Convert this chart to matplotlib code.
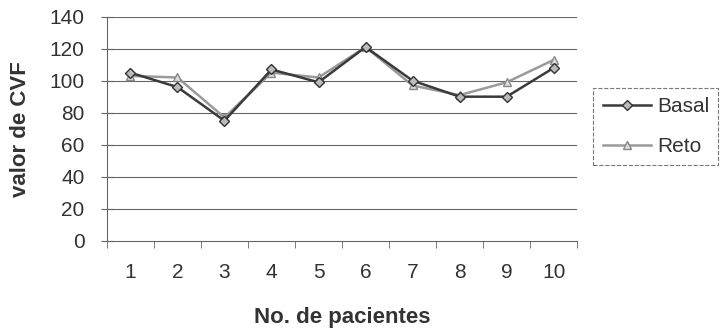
import matplotlib
matplotlib.use('AGG')
import matplotlib.pyplot as plt
import numpy as np

# data
pacientes = ['1', '2', '3', '4', '5', '6', '7', '8', '9', '10']
basal = [105, 96, 75, 107, 99, 121, 100, 90, 90, 108]
reto = [103, 102, 77, 105, 102, 121, 97, 91, 99, 113]
yticks = [0, 20, 40, 60, 80, 100, 120, 140]

plt.rcParams['font.family'] = ['Liberation Sans', 'DejaVu Sans']

fig = plt.figure(figsize=(7.27, 3.33), dpi=100)
ax = fig.add_axes([0.147, 0.277, 0.647, 0.673])

x = np.arange(len(pacientes)) + 0.5

for yv in yticks[1:]:
    ax.axhline(yv, color='#666666', linewidth=0.8, zorder=1)

ax.plot(x, reto, color='#9a9a9a', linewidth=1.8, marker='^', markersize=6,
        markerfacecolor='#dddddd', markeredgecolor='#888888', label='Reto', zorder=3)
ax.plot(x, basal, color='#3a3a3a', linewidth=1.8, marker='D', markersize=5.5,
        markerfacecolor='#bbbbbb', markeredgecolor='#333333', label='Basal', zorder=4)

ax.set_xlim(0, len(pacientes))
ax.set_ylim(0, 140)
ax.set_yticks(yticks)
ax.set_xticks(x)
ax.set_xticklabels(pacientes)
ax.set_xticks(np.arange(len(pacientes) + 1), minor=True)

for s in ['top', 'right']:
    ax.spines[s].set_visible(False)
ax.spines['left'].set_color('#666666')
ax.spines['bottom'].set_color('#666666')

ax.tick_params(axis='y', direction='inout', length=8, color='#666666',
               labelsize=15, labelcolor='#333333', pad=12)
ax.tick_params(axis='x', which='major', length=0, labelsize=15,
               labelcolor='#333333', pad=16)
ax.tick_params(axis='x', which='minor', direction='out', length=5, color='#666666')

ax.set_xlabel('No. de pacientes', fontsize=16, fontweight='bold', color='#333333', labelpad=18)
ax.set_ylabel('valor de CVF', fontsize=16, fontweight='bold', color='#333333', labelpad=13)

handles, labels = ax.get_legend_handles_labels()
leg = fig.legend(handles[::-1], labels[::-1], loc='upper left',
                 bbox_to_anchor=(0.816, 0.736), borderaxespad=0, fontsize=15,
                 frameon=True, fancybox=False, handlelength=2.3, handletextpad=0.3,
                 borderpad=0.45, labelspacing=1.0, labelcolor='#333333')
leg.get_frame().set_edgecolor('#555555')
leg.get_frame().set_linestyle('--')
leg.get_frame().set_linewidth(0.8)

fig.savefig('out.png', dpi=100)
plt.close()
